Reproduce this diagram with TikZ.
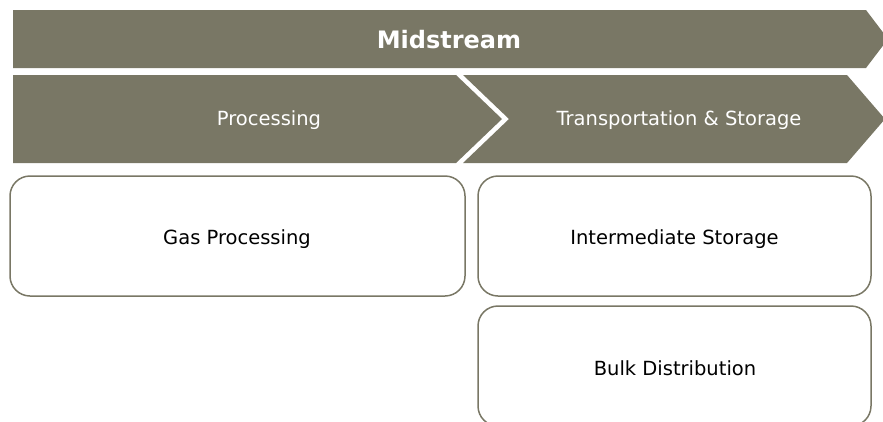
\documentclass[tikz,border=0pt]{standalone}
\usepackage{fontspec}
\setmainfont{DejaVu Sans}
\definecolor{olivegray}{RGB}{121,119,101}
\begin{document}
\begin{tikzpicture}[x=1pt,y=-1pt,
  band/.style={fill=olivegray,draw=none},
  bandtext/.style={text=white,font=\fontsize{19.5}{23}\selectfont,inner sep=0pt},
  titletext/.style={text=white,font=\fontsize{24}{28}\selectfont\bfseries,inner sep=0pt},
  card/.style={draw=olivegray,line width=1.5pt,rounded corners=20pt,fill=white},
  cardtext/.style={text=black,font=\fontsize{19.5}{23}\selectfont,inner sep=0pt}]
\useasboundingbox (0,0) rectangle (883,421);
\clip (0,0) rectangle (883,421);
% top band
\path[band] (13,10) -- (866,10) -- (888,39) -- (866,68) -- (13,68) -- cycle;
\node[titletext] (mid) at (449,40) {Midstream};
% second row
\path[band] (13,75) -- (456,75) -- (502,119) -- (456,163) -- (13,163) -- cycle;
\path[band] (463,75) -- (847,75) -- (885,119) -- (847,163) -- (463,163) -- (509,119) -- cycle;
\node[bandtext] (proc) at (269,120) {Processing};
\node[bandtext] (trans) at (679,120) {Transportation \& Storage};
% cards
\draw[card] (10,176) rectangle (465,296);
\node[cardtext] (gas) at (237,239) {Gas Processing};
\draw[card] (478,176) rectangle (871,296);
\node[cardtext] (inter) at (674.5,239) {Intermediate Storage};
\draw[card] (478,306) rectangle (871,426);
\node[cardtext] (bulk) at (675,368) {Bulk Distribution};
\end{tikzpicture}
\end{document}
